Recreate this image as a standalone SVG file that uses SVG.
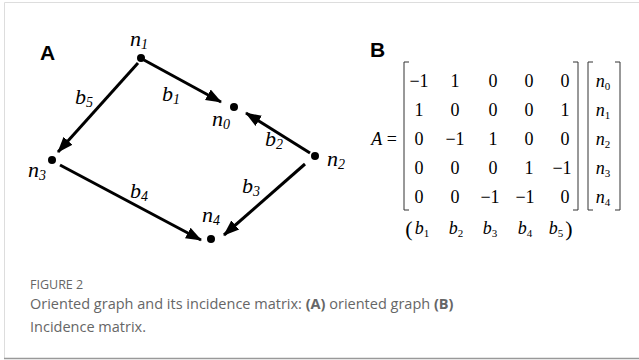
<svg xmlns="http://www.w3.org/2000/svg" width="639" height="360" viewBox="0 0 639 360">
<defs>
<style>
text.it, .it text{font-family:"Liberation Serif","DejaVu Serif",serif;font-style:italic;fill:#000}
.gl{font-size:22px}
.sb{font-size:14px}
.m{font-family:"Liberation Serif","DejaVu Serif",serif;font-size:18px;fill:#000;text-anchor:middle}
.mi{font-style:italic}
.ms{font-size:11px;font-style:normal}
.lbl{font-family:"Liberation Sans",Arial,sans-serif;font-weight:bold;font-size:21px;fill:#000}
.edge{stroke:#000;stroke-width:3;fill:none;marker-end:url(#ah)}
.br{stroke:#333;stroke-width:1;fill:none}
.cap{font-family:"Open Sans","Noto Sans",sans-serif;fill:#666}
</style>
<marker id="ah" markerUnits="userSpaceOnUse" markerWidth="16" markerHeight="14" refX="15" refY="6" orient="auto" viewBox="0 0 16 12">
<path d="M0,0 L16,6 L0,12 Z" fill="#000"/>
</marker>
</defs>
<rect width="639" height="360" fill="#fff"/>
<path d="M4.5,358 V2.5 H639" fill="none" stroke="#ddd" stroke-width="1"/>
<path d="M4,358.5 H639" fill="none" stroke="#999" stroke-width="1.5"/>

<text class="lbl" x="40" y="60">A</text>

<g id="connectors">
<path class="edge" d="M144,60 L221,102"/>
<path class="edge" d="M310,153 L246,113"/>
<path class="edge" d="M305,164 L224,235"/>
<path class="edge" d="M60,165 L201,240"/>
<path class="edge" d="M138,63 L58,152"/>
<g class="it gl">
<text x="162" y="101" font-style="italic">b<tspan class="sb" dy="3">1</tspan></text>
<text x="265" y="146" font-style="italic">b<tspan class="sb" dy="3">2</tspan></text>
<text x="242" y="193" font-style="italic">b<tspan class="sb" dy="3">3</tspan></text>
<text x="130" y="198" font-style="italic">b<tspan class="sb" dy="3">4</tspan></text>
<text x="75" y="104" font-style="italic">b<tspan class="sb" dy="3">5</tspan></text>
</g>
</g>

<g id="n0"><circle cx="234" cy="107" r="4"/><text class="it gl" font-style="italic" x="212" y="126">n<tspan class="sb" dy="3">0</tspan></text></g>
<g id="n1"><circle cx="141" cy="58" r="4"/><text class="it gl" font-style="italic" x="130" y="46">n<tspan class="sb" dy="3">1</tspan></text></g>
<g id="n2"><circle cx="315" cy="156" r="4"/><text class="it gl" font-style="italic" x="327" y="166">n<tspan class="sb" dy="3">2</tspan></text></g>
<g id="n3"><circle cx="52" cy="160" r="4"/><text class="it gl" font-style="italic" x="28" y="177">n<tspan class="sb" dy="3">3</tspan></text></g>
<g id="n4"><circle cx="211" cy="239" r="4"/><text class="it gl" font-style="italic" x="202" y="222">n<tspan class="sb" dy="3">4</tspan></text></g>

<text class="lbl" x="370" y="57">B</text>

<g id="matrix">
<text class="m" x="384" y="145"><tspan class="mi" font-style="italic">A</tspan> =</text>
<path class="br" d="M409,62 H404 V210 H409"/>
<path class="br" d="M573,62 H578 V210 H573"/>
<path class="br" d="M593,62 H588 V210 H593"/>
<path class="br" d="M615,62 H620 V210 H615"/>
<g class="m">
<text x="419" y="87">−1</text><text x="455" y="87">1</text><text x="493" y="87">0</text><text x="529" y="87">0</text><text x="565" y="87">0</text>
<text x="419" y="116">1</text><text x="455" y="116">0</text><text x="493" y="116">0</text><text x="529" y="116">0</text><text x="565" y="116">1</text>
<text x="419" y="145">0</text><text x="455" y="145">−1</text><text x="493" y="145">1</text><text x="529" y="145">0</text><text x="565" y="145">0</text>
<text x="419" y="174">0</text><text x="455" y="174">0</text><text x="493" y="174">0</text><text x="529" y="174">1</text><text x="562" y="174">−1</text>
<text x="419" y="203">0</text><text x="455" y="203">0</text><text x="490" y="203">−1</text><text x="525" y="203">−1</text><text x="565" y="203">0</text>
</g>
<g class="m">
<text x="603" y="87"><tspan class="mi" font-style="italic">n</tspan><tspan class="ms" dy="3">0</tspan></text>
<text x="603" y="116"><tspan class="mi" font-style="italic">n</tspan><tspan class="ms" dy="3">1</tspan></text>
<text x="603" y="145"><tspan class="mi" font-style="italic">n</tspan><tspan class="ms" dy="3">2</tspan></text>
<text x="603" y="174"><tspan class="mi" font-style="italic">n</tspan><tspan class="ms" dy="3">3</tspan></text>
<text x="603" y="203"><tspan class="mi" font-style="italic">n</tspan><tspan class="ms" dy="3">4</tspan></text>
</g>
<g class="m">
<text x="409" y="236" font-size="22">(</text>
<text x="422" y="234"><tspan class="mi" font-style="italic">b</tspan><tspan class="ms" dy="3">1</tspan></text>
<text x="456" y="234"><tspan class="mi" font-style="italic">b</tspan><tspan class="ms" dy="3">2</tspan></text>
<text x="490" y="234"><tspan class="mi" font-style="italic">b</tspan><tspan class="ms" dy="3">3</tspan></text>
<text x="525" y="234"><tspan class="mi" font-style="italic">b</tspan><tspan class="ms" dy="3">4</tspan></text>
<text x="556" y="234"><tspan class="mi" font-style="italic">b</tspan><tspan class="ms" dy="3">5</tspan></text>
<text x="569" y="236" font-size="22">)</text>
</g>
</g>

<text class="cap" x="30" y="289" font-size="12.5" fill="#777">FIGURE 2</text>
<text class="cap" x="30" y="309" font-size="14.5">Oriented graph and its incidence matrix: <tspan font-weight="bold">(A)</tspan> oriented graph <tspan font-weight="bold">(B)</tspan></text>
<text class="cap" x="30" y="332" font-size="14.5">Incidence matrix.</text>
</svg>
